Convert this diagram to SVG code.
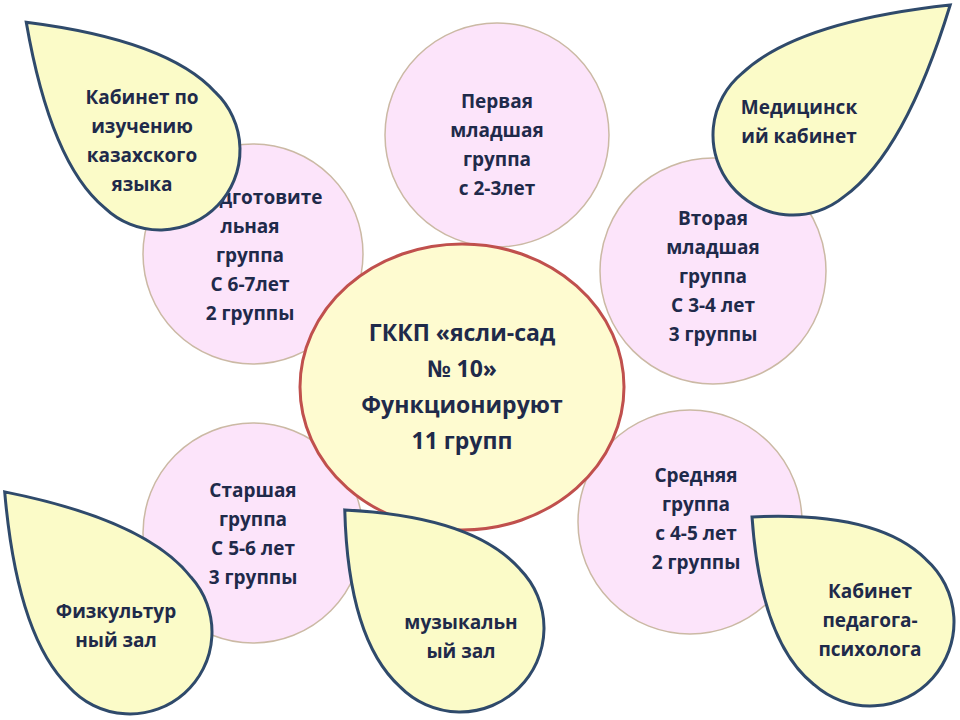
<svg xmlns="http://www.w3.org/2000/svg" width="960" height="720" viewBox="0 0 960 720">
<style>
.c{fill:#fce4fa;stroke:#cbb9a4;stroke-width:1.5}
.d{fill:#fbfbc8;stroke:#2f4a6b;stroke-width:3}
text{font-family:"Open Sans","Liberation Sans",sans-serif;font-weight:bold;font-size:19px;fill:#1f2a4a;text-anchor:middle}
.big{font-size:23px}
</style>
<rect width="960" height="720" fill="#fff"/>
<g id="connectors"/>
<g id="g1"><circle class="c" cx="497" cy="135" r="112"/>
<text x="497" y="108">Первая</text><text x="497" y="137">младшая</text><text x="497" y="166">группа</text><text x="497" y="195">с 2-3лет</text></g>
<g id="g2"><circle class="c" cx="713" cy="271" r="113"/>
<text x="713" y="225">Вторая</text><text x="713" y="254">младшая</text><text x="713" y="283">группа</text><text x="713" y="312">С 3-4 лет</text><text x="713" y="341">3 группы</text></g>
<g id="g3"><circle class="c" cx="253" cy="254" r="110"/>
<text x="258" y="204">Подготовите</text><text x="250" y="233">льная</text><text x="250" y="262">группа</text><text x="250" y="291">С 6-7лет</text><text x="250" y="320">2 группы</text></g>
<g id="g4"><circle class="c" cx="253" cy="533" r="110"/>
<text x="253" y="497">Старшая</text><text x="253" y="526">группа</text><text x="253" y="555">С 5-6 лет</text><text x="253" y="584">3 группы</text></g>
<g id="g5"><circle class="c" cx="690" cy="522" r="112"/>
<text x="696" y="482">Средняя</text><text x="696" y="511">группа</text><text x="696" y="540">с 4-5 лет</text><text x="696" y="569">2 группы</text></g>
<g id="center"><ellipse cx="462" cy="387" rx="162" ry="143" fill="#fefbd0" stroke="#c0504d" stroke-width="3"/>
<text class="big" x="462" y="341">ГККП «ясли-сад</text><text class="big" x="462" y="377">№ 10»</text><text class="big" x="462" y="413">Функционируют</text><text class="big" x="462" y="449">11 групп</text></g>
<g id="d1"><path class="d" transform="translate(160,150) rotate(-136.3)" d="M185 0 Q70 -85 0 -80 A80 80 0 0 0 0 80 Q70 85 185 0Z"/>
<text x="142" y="104">Кабинет по</text><text x="142" y="133">изучению</text><text x="142" y="162">казахского</text><text x="142" y="191">языка</text></g>
<g id="d2"><path class="d" transform="translate(793,135) rotate(-39.6)" d="M204 0 Q75 -85 0 -80 A80 80 0 0 0 0 80 Q75 85 204 0Z"/>
<text x="799" y="114">Медицинск</text><text x="799" y="143">ий кабинет</text></g>
<g id="d3"><path class="d" transform="translate(130,632) rotate(-131.8)" d="M188 0 Q72 -87 0 -82 A82 82 0 0 0 0 82 Q72 87 188 0Z"/>
<text x="116" y="618">Физкультур</text><text x="116" y="647">ный зал</text></g>
<g id="d4"><path class="d" transform="translate(460,628) rotate(-134.3)" d="M165 0 Q70 -88 0 -84 A84 84 0 0 0 0 84 Q70 88 165 0Z"/>
<text x="461" y="629">музыкальн</text><text x="461" y="658">ый зал</text></g>
<g id="d5"><path class="d" transform="translate(870,622) rotate(-138.3)" d="M158 0 Q68 -88 0 -84 A84 84 0 0 0 0 84 Q68 88 158 0Z"/>
<text x="870" y="598">Кабинет</text><text x="870" y="627">педагога-</text><text x="870" y="656">психолога</text></g>
</svg>
